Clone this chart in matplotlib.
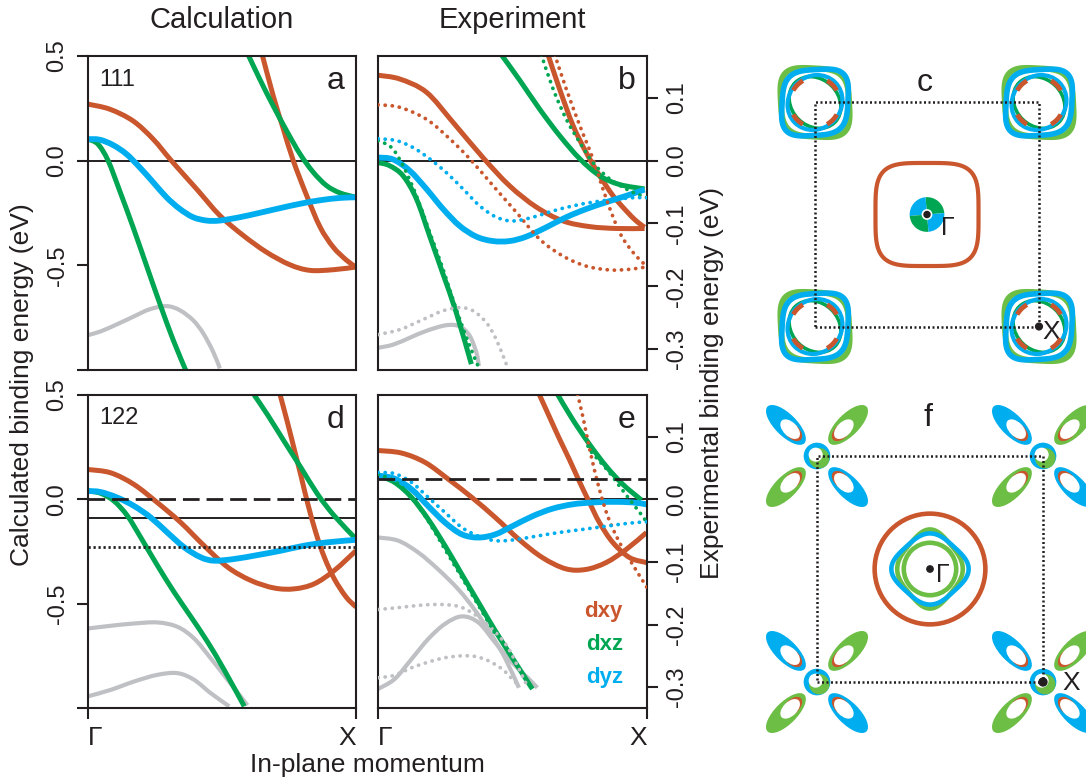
import numpy as np
import matplotlib
matplotlib.use("Agg")
import matplotlib.pyplot as plt
from matplotlib.patches import Ellipse, Circle, Wedge, Polygon, PathPatch, Arc
from matplotlib.path import Path

plt.rcParams['font.family'] = ['Liberation Sans', 'DejaVu Sans']

ORANGE = '#C9562C'
GREEN = '#00A651'
LGREEN = '#6DBE45'
BLUE = '#00AEEF'
GRAY = '#BEC0C4'
INK = '#231F20'

# ---------------- band data: x = momentum (Gamma=0, X=1), y = energy (eV) -------------
# panel a (calculation 111)
a_dxy1_x = [0, .081, .168, .243, .311, .405, .492, .579, .666, .753, .828, .915, 1.0]
a_dxy1_y = [.270, .246, .190, .103, 0, -.135, -.262, -.357, -.437, -.497, -.524, -.521, -.508]
a_dxy2_x = [.648, .691, .729, .766, .816, .866, .915, .965, 1.0]
a_dxy2_y = [.516, .310, .151, 0, -.167, -.317, -.413, -.476, -.508]
a_dxz1_x = [0, .037, .075, .118, .168, .218, .268, .318, .367]
a_dxz1_y = [.103, .079, 0, -.143, -.317, -.5, -.683, -.857, -1.008]
a_dxz2_x = [.594, .641, .691, .741, .791, .841, .890, .940, 1.0]
a_dxz2_y = [.516, .389, .262, .143, .032, -.056, -.119, -.154, -.175]
a_dyz_x = [0, .044, .093, .143, .193, .243, .293, .342, .392, .442, .492, .567, .641, .716, .791, .866, .940, 1.0]
a_dyz_y = [.103, .1, .075, .032, -.032, -.103, -.175, -.230, -.270, -.286, -.286, -.270, -.249, -.227, -.206, -.189, -.178, -.175]
a_gray_x = [0, .044, .106, .168, .230, .293, .342, .392, .430, .467, .492]
a_gray_y = [-.833, -.817, -.783, -.746, -.710, -.695, -.714, -.762, -.825, -.913, -.992]

# panel b (experiment 111, experimental energy scale)
b_dxy1_x = [0, .081, .180, .279, .390, .489, .589, .688, .787, .887, .991]
b_dxy1_y = [.136, .130, .109, .061, .005, -.040, -.074, -.096, -.105, -.108, -.108]
b_dxy2_x = [.632, .675, .725, .774, .824, .874, .923, .960, .991]
b_dxy2_y = [.169, .114, .056, .013, -.024, -.056, -.080, -.096, -.106]
b_dxz1_x = [0, .043, .093, .143, .192, .242, .291, .347]
b_dxz1_y = [-.003, -.008, -.024, -.061, -.120, -.181, -.242, -.324]
b_dxz2_x = [.458, .527, .601, .675, .750, .824, .898, .991]
b_dxz2_y = [.169, .128, .082, .040, .003, -.024, -.038, -.045]
b_dyz_x = [0, .056, .118, .180, .242, .304, .366, .427, .489, .551, .626, .700, .774, .849, .923, .991]
b_dyz_y = [.005, .002, -.016, -.045, -.077, -.104, -.121, -.128, -.128, -.121, -.106, -.090, -.077, -.066, -.056, -.046]
b_gray_x = [0, .056, .118, .180, .254, .304, .341, .366, .375]
b_gray_y = [-.298, -.293, -.282, -.271, -.262, -.264, -.279, -.306, -.327]
# experimental (dotted) bands in b
b_exp_dxy1_x = [0, .081, .180, .266, .341, .428, .514, .601, .688, .775, .861, .935, 1.0]
b_exp_dxy1_y = [.089, .085, .066, .035, .003, -.040, -.082, -.125, -.152, -.168, -.174, -.173, -.169]
b_exp_dxy2_x = [.657, .700, .750, .799, .849, .898, .948, 1.0]
b_exp_dxy2_y = [.169, .114, .056, .003, -.061, -.114, -.146, -.169]
b_exp_dxz1_x = [0, .050, .093, .143, .192, .242, .291, .341, .372]
b_exp_dxz1_y = [.032, .021, -.008, -.056, -.114, -.173, -.237, -.295, -.327]
b_exp_dxz2_x = [.607, .651, .700, .750, .799, .861, .936, 1.0]
b_exp_dxz2_y = [.169, .114, .066, .029, -.003, -.029, -.048, -.059]
b_exp_dyz_x = [0, .068, .130, .192, .254, .316, .378, .440, .502, .576, .651, .725, .799, .874, .948, 1.0]
b_exp_dyz_y = [.035, .032, .021, .003, -.019, -.045, -.072, -.090, -.096, -.090, -.080, -.072, -.066, -.062, -.059, -.059]
b_exp_gray_x = [0, .081, .167, .242, .304, .353, .403, .440, .477]
b_exp_gray_y = [-.277, -.269, -.253, -.239, -.234, -.239, -.258, -.285, -.324]

# panel d (calculation 122)
d_dxy1_x = [0, .085, .172, .259, .346, .433, .521, .608, .695, .770, .844, .919, 1.0]
d_dxy1_y = [.143, .127, .071, -.016, -.111, -.222, -.325, -.389, -.425, -.429, -.405, -.341, -.246]
d_dxy2_x = [.717, .745, .770, .795, .819, .850, .882, .919, .963, 1.0]
d_dxy2_y = [.5, .365, .238, .111, -.016, -.159, -.278, -.381, -.468, -.516]
d_dxz1_x = [0, .047, .097, .147, .197, .259, .321, .384, .446, .508, .583]
d_dxz1_y = [.040, .029, -.008, -.079, -.183, -.317, -.444, -.563, -.683, -.817, -.992]
d_dxz2_x = [.620, .670, .732, .795, .857, .919, 1.0]
d_dxz2_y = [.5, .405, .278, .151, .024, -.079, -.190]
d_dyz_x = [0, .047, .110, .172, .234, .296, .359, .421, .471, .545, .633, .720, .807, .894, 1.0]
d_dyz_y = [.040, .035, .008, -.032, -.087, -.159, -.230, -.278, -.294, -.286, -.267, -.246, -.222, -.206, -.194]
d_gray1_x = [0, .085, .172, .259, .334, .396, .458, .521, .595]
d_gray1_y = [-.619, -.606, -.595, -.590, -.611, -.667, -.762, -.865, -.987]
d_gray2_x = [0, .085, .172, .259, .334, .396, .458, .527]
d_gray2_y = [-.944, -.913, -.873, -.841, -.833, -.865, -.929, -.992]
d_levels = [0.0, -0.09, -0.227]          # dashed, solid, dotted

# panel e (experiment 122, experimental energy scale)
e_dxy1_x = [0, .087, .175, .262, .349, .436, .524, .611, .698, .773, .848, .923, .998]
e_dxy1_y = [.078, .074, .059, .032, .003, -.029, -.064, -.093, -.111, -.112, -.101, -.080, -.053]
e_dxy2_x = [.599, .636, .673, .711, .748, .786, .823, .873, .935, .998]
e_dxy2_y = [.168, .133, .098, .064, .029, -.005, -.037, -.069, -.093, -.101]
e_dxz1_x = [0, .062, .125, .187, .249, .312, .374, .436, .511, .574]
e_dxz1_y = [.038, .027, .003, -.032, -.074, -.120, -.165, -.210, -.261, -.303]
e_dxz2_x = [.667, .723, .786, .848, .910, .979]
e_dxz2_y = [.168, .128, .088, .053, .024, -.001]
e_dyz_x = [0, .062, .125, .187, .249, .312, .374, .436, .499, .574, .648, .723, .798, .873, .948, .998]
e_dyz_y = [.038, .033, .016, -.011, -.037, -.056, -.061, -.056, -.043, -.027, -.015, -.008, -.005, -.004, -.005, -.008]
e_gray1_x = [0, .075, .150, .224, .299, .362, .424, .474, .524]
e_gray1_y = [-.061, -.066, -.085, -.112, -.144, -.178, -.218, -.255, -.301]
e_gray2_x = [0, .062, .125, .187, .249, .312, .374, .436, .499, .561, .592]
e_gray2_y = [-.303, -.287, -.255, -.223, -.199, -.187, -.197, -.229, -.261, -.287, -.301]
e_exp_dxy_x = [.742, .761, .779, .798, .823, .854, .892, .935, 1.0]
e_exp_dxy_y = [.168, .133, .096, .059, .016, -.027, -.064, -.096, -.141]
e_exp_dxz1_x = [0, .062, .125, .187, .249, .312, .374, .436]
e_exp_dxz1_y = [.040, .029, .003, -.035, -.080, -.125, -.170, -.215]
e_exp_dxz2_x = [.773, .786, .823, .860, .898, .935, .973, 1.0]
e_exp_dxz2_y = [.096, .080, .061, .043, .021, 0, -.021, -.037]
e_exp_dyz_x = [0, .062, .125, .187, .249, .312, .374, .436, .499, .586, .673, .761, .848, .935, 1.0]
e_exp_dyz_y = [.043, .041, .027, .003, -.021, -.045, -.059, -.066, -.065, -.059, -.053, -.048, -.043, -.038, -.036]
e_exp_gray1_x = [0, .075, .162, .237, .299, .349, .399, .449, .486, .524, .549]
e_exp_gray1_y = [-.176, -.173, -.169, -.168, -.171, -.181, -.197, -.218, -.239, -.271, -.293]
e_exp_gray2_x = [0, .062, .125, .187, .249, .312, .362, .411, .461, .499, .524]
e_exp_gray2_y = [-.285, -.281, -.269, -.260, -.253, -.250, -.251, -.258, -.271, -.287, -.298]
e_levels = [0.032, 0.0]                 # dashed, solid

calc_ticks = [-1.0, -0.5, 0.0, 0.5]
calc_ticklabels = ['', '-0.5', '0.0', '0.5']
exp_ticks = [-0.3, -0.2, -0.1, 0.0, 0.1]
exp_ticklabels = ['-0.3', '-0.2', '-0.1', '0.0', '0.1']
k_ticks = [0, 1]
k_ticklabels = ['Γ', 'X']
orbital_names = ['dxy', 'dxz', 'dyz']
orbital_colors = [ORANGE, GREEN, BLUE]

# ---------------- Fermi surface parameters (BZ half-width = 1) ----------------
c_gamma_dxy = [0.46, 4.0]                       # half-size, squircle exponent
c_gamma_disc = 0.155
c_corner_outer_g = [0.30, 3.5, 0.97, 1.07]      # half-size, exponent, stretch NE-SW, stretch NW-SE
c_corner_outer_b = [0.29, 3.5, 1.07, 0.96]
c_corner_inner = [0.222, 0.25, 0.21, 0.255, 0.235]  # orange arc radius, green / blue ellipse semi-axes
f_gamma_dxy = 0.49
f_gamma_dxz_circle = 0.232
f_gamma_dyz_diamond = [0.342, 0.315]            # half-width, half-height
f_gamma_dxz_diamond = [0.29, 0.35]
f_corner_ring = [0.118, 0.09, 0.062]
f_lobe = [0.275, 0.23, 0.097, 0.106, 0.062]     # offset, semi-major, semi-minor, hole semi axes
f_lobe_colors = {(-1, 1): BLUE, (1, 1): LGREEN, (-1, -1): LGREEN, (1, -1): BLUE}
corners = [(-1, -1), (1, -1), (1, 1), (-1, 1)]

# ---------------- figure ----------------
W, H = 1086, 781
fig = plt.figure(figsize=(W / 100, H / 100), dpi=100)


def rect(l, t, r, b):
    return [l / W, 1 - b / H, (r - l) / W, (b - t) / H]


ax_a = fig.add_axes(rect(88, 56, 356, 370))
ax_b = fig.add_axes(rect(378, 56, 647, 370))
ax_d = fig.add_axes(rect(88, 395, 356, 708))
ax_e = fig.add_axes(rect(378, 395, 647, 708))

LW = 3.6


def smooth_path(x, y):
    """Cubic Bezier path through the read points (Catmull-Rom tangents)."""
    P = np.column_stack([x, y]).astype(float)
    n = len(P)
    verts = [P[0]]
    codes = [Path.MOVETO]
    for i in range(n - 1):
        p0 = P[i - 1] if i > 0 else P[i]
        p1, p2 = P[i], P[i + 1]
        p3 = P[i + 2] if i + 2 < n else P[i + 1]
        verts += [p1 + (p2 - p0) / 6, p2 - (p3 - p1) / 6, p2]
        codes += [Path.CURVE4] * 3
    return Path(verts, codes)


def solid(ax, x, y, c, lw=LW):
    ax.add_patch(PathPatch(smooth_path(x, y), fill=False, ec=c, lw=lw, joinstyle='round',
                           capstyle='butt', zorder=2))


def dotted(ax, x, y, c):
    ax.add_patch(PathPatch(smooth_path(x, y), fill=False, ec=c, lw=2.7, ls=(0, (0.05, 1.85)),
                           capstyle='round', zorder=3))


for ax in (ax_a, ax_b, ax_d, ax_e):
    ax.set_xlim(0, 1)
    for s in ax.spines.values():
        s.set_linewidth(1.5)
        s.set_color(INK)
    ax.tick_params(direction='out', length=8, width=1.5, labelsize=17, color=INK, labelcolor=INK)

for ax in (ax_a, ax_d):
    ax.set_ylim(-1.0, 0.5)
    ax.set_yticks(calc_ticks)
    ax.set_yticklabels(calc_ticklabels, rotation=90, va='center')
    ax.tick_params(axis='y', pad=6)
for ax in (ax_b, ax_e):
    ax.set_ylim(-1.0 / 3, 0.5 / 3)
    ax.yaxis.tick_right()
    ax.set_yticks(exp_ticks)
    ax.set_yticklabels(exp_ticklabels, rotation=90, va='center')
    ax.tick_params(axis='y', pad=6)
for ax in (ax_a, ax_b):
    ax.set_xticks([])
for ax in (ax_d, ax_e):
    ax.set_xticks(k_ticks)
    lbls = ax.set_xticklabels(k_ticklabels, fontsize=19)
    lbls[0].set_ha('left')
    lbls[1].set_ha('right')
    ax.tick_params(axis='x', pad=5)

# panel a
ax_a.axhline(0, color=INK, lw=1.4, zorder=1)
solid(ax_a, a_gray_x, a_gray_y, GRAY, 3.0)
solid(ax_a, a_dxy1_x, a_dxy1_y, ORANGE)
solid(ax_a, a_dxy2_x, a_dxy2_y, ORANGE)
solid(ax_a, a_dxz1_x, a_dxz1_y, GREEN)
solid(ax_a, a_dxz2_x, a_dxz2_y, GREEN)
solid(ax_a, a_dyz_x, a_dyz_y, BLUE, 4.2)

# panel b
ax_b.axhline(0, color=INK, lw=1.4, zorder=1)
solid(ax_b, b_gray_x, b_gray_y, GRAY, 3.0)
solid(ax_b, b_dxy1_x, b_dxy1_y, ORANGE)
solid(ax_b, b_dxy2_x, b_dxy2_y, ORANGE)
solid(ax_b, b_dxz1_x, b_dxz1_y, GREEN)
solid(ax_b, b_dxz2_x, b_dxz2_y, GREEN)
solid(ax_b, b_dyz_x, b_dyz_y, BLUE, 4.2)
dotted(ax_b, b_exp_gray_x, b_exp_gray_y, GRAY)
dotted(ax_b, b_exp_dxy1_x, b_exp_dxy1_y, ORANGE)
dotted(ax_b, b_exp_dxy2_x, b_exp_dxy2_y, ORANGE)
dotted(ax_b, b_exp_dxz1_x, b_exp_dxz1_y, GREEN)
dotted(ax_b, b_exp_dxz2_x, b_exp_dxz2_y, GREEN)
dotted(ax_b, b_exp_dyz_x, b_exp_dyz_y, BLUE)

# panel d
solid(ax_d, d_gray1_x, d_gray1_y, GRAY, 3.0)
solid(ax_d, d_gray2_x, d_gray2_y, GRAY, 3.0)
solid(ax_d, d_dxy1_x, d_dxy1_y, ORANGE)
solid(ax_d, d_dxy2_x, d_dxy2_y, ORANGE)
solid(ax_d, d_dxz1_x, d_dxz1_y, GREEN)
solid(ax_d, d_dxz2_x, d_dxz2_y, GREEN)
solid(ax_d, d_dyz_x, d_dyz_y, BLUE, 4.2)
ax_d.axhline(d_levels[0], color=INK, lw=2.0, ls=(0, (6, 2.5)), zorder=4)
ax_d.axhline(d_levels[1], color=INK, lw=1.4, zorder=1)
ax_d.axhline(d_levels[2], color=INK, lw=2.0, ls=(0, (0.8, 1.0)), zorder=4)

# panel e
solid(ax_e, e_gray1_x, e_gray1_y, GRAY, 3.0)
solid(ax_e, e_gray2_x, e_gray2_y, GRAY, 3.0)
solid(ax_e, e_dxy1_x, e_dxy1_y, ORANGE)
solid(ax_e, e_dxy2_x, e_dxy2_y, ORANGE)
solid(ax_e, e_dxz1_x, e_dxz1_y, GREEN)
solid(ax_e, e_dxz2_x, e_dxz2_y, GREEN)
solid(ax_e, e_dyz_x, e_dyz_y, BLUE, 4.2)
dotted(ax_e, e_exp_gray1_x, e_exp_gray1_y, GRAY)
dotted(ax_e, e_exp_gray2_x, e_exp_gray2_y, GRAY)
dotted(ax_e, e_exp_dxy_x, e_exp_dxy_y, ORANGE)
dotted(ax_e, e_exp_dxz1_x, e_exp_dxz1_y, GREEN)
dotted(ax_e, e_exp_dxz2_x, e_exp_dxz2_y, GREEN)
dotted(ax_e, e_exp_dyz_x, e_exp_dyz_y, BLUE)
ax_e.axhline(e_levels[0], color=INK, lw=2.0, ls=(0, (6, 2.5)), zorder=4)
ax_e.axhline(e_levels[1], color=INK, lw=1.4, zorder=1)

# panel labels
for ax, lab, num in ((ax_a, 'a', '111'), (ax_b, 'b', None), (ax_d, 'd', '122'), (ax_e, 'e', None)):
    ax.text(0.925, 0.92, lab, transform=ax.transAxes, fontsize=23, ha='center', va='center', color=INK)
    if num:
        ax.text(0.042, 0.925, num, transform=ax.transAxes, fontsize=17, ha='left', va='center', color=INK)

for i, (nm, col) in enumerate(zip(orbital_names, orbital_colors)):
    ax_e.text(0.91, 0.291 - 0.105 * i, nm, color=col, transform=ax_e.transAxes,
              fontsize=16, fontweight='bold', ha='right', va='baseline')

fig.text(222 / W, 1 - 20 / H, 'Calculation', fontsize=21, ha='center', va='center', color=INK)
fig.text(512 / W, 1 - 20 / H, 'Experiment', fontsize=21, ha='center', va='center', color=INK)
fig.text(22 / W, 1 - 385 / H, 'Calculated binding energy (eV)', fontsize=19, rotation=90,
         ha='center', va='center', color=INK)
fig.text(712 / W, 1 - 383 / H, 'Experimental binding energy (eV)', fontsize=19, rotation=90,
         ha='center', va='center', color=INK)
fig.text(367 / W, 1 - 765 / H, 'In-plane momentum', fontsize=19, ha='center', va='center', color=INK)


# ---------------- Fermi surfaces ----------------
def shape(n, rot_deg, hx, hy, s_diag=1.0, s_anti=1.0, npts=240):
    t = np.linspace(0, 2 * np.pi, npts)
    c, s = np.cos(t), np.sin(t)
    x = np.sign(c) * np.abs(c) ** (2 / n)
    y = np.sign(s) * np.abs(s) ** (2 / n)
    r = np.deg2rad(rot_deg)
    x, y = x * np.cos(r) - y * np.sin(r), x * np.sin(r) + y * np.cos(r)
    x = x / np.abs(x).max() * hx
    y = y / np.abs(y).max() * hy
    u, v = (x + y) / np.sqrt(2) * s_diag, (x - y) / np.sqrt(2) * s_anti
    return np.column_stack([(u + v) / np.sqrt(2), (u - v) / np.sqrt(2)])


def outline(ax, pts, center, color, lw, z=2):
    ax.add_patch(Polygon(pts + np.array(center), closed=True, fill=False, ec=color, lw=lw,
                         joinstyle='round', zorder=z))


def zone(ax):
    ax.plot([-1, 1, 1, -1, -1], [-1, -1, 1, 1, -1], color=INK, lw=1.8,
            ls=(0, (0.8, 1.0)), zorder=6)


# panel c
ax_c = fig.add_axes(rect(745, 40, 1086, 385))
ax_c.set_xlim((745 - 927) / 112, (1086 - 927) / 112)
ax_c.set_ylim((214.5 - 385) / 112, (214.5 - 40) / 112)
ax_c.axis('off')
outline(ax_c, shape(c_gamma_dxy[1], 0, c_gamma_dxy[0], c_gamma_dxy[0]), (0, 0), ORANGE, 3.0)
for th1, th2, col in ((5, 95, GREEN), (95, 185, BLUE), (185, 275, GREEN), (275, 365, BLUE)):
    ax_c.add_patch(Wedge((0, 0), c_gamma_disc, th1, th2, color=col, lw=0, zorder=3))
ax_c.add_patch(Circle((0, 0), 0.042, color='white', zorder=4))
ax_c.add_patch(Circle((0, 0), 0.027, color=INK, zorder=5))
ci = c_corner_inner
for cx, cy in corners:
    g = c_corner_outer_g
    b = c_corner_outer_b
    outline(ax_c, shape(g[1], 0, g[0], g[0], g[2], g[3]), (cx, cy), LGREEN, 4.2, 2)
    outline(ax_c, shape(b[1], 0, b[0], b[0], b[2], b[3]), (cx, cy), BLUE, 4.0, 3)
    ax_c.add_patch(Ellipse((cx, cy), 2 * ci[1], 2 * ci[2], angle=-45,
                           fill=False, ec=GREEN, lw=2.6, zorder=3))
    ax_c.add_patch(Ellipse((cx, cy), 2 * ci[3], 2 * ci[4], angle=45,
                           fill=False, ec=BLUE, lw=3.0, zorder=4))
    for th in (45, 135, 225, 315):
        ax_c.add_patch(Arc((cx, cy), 2 * ci[0], 2 * ci[0], theta1=th - 16,
                           theta2=th + 16, ec=ORANGE, lw=3.4, zorder=5))
zone(ax_c)
ax_c.add_patch(Circle((1, -1), 0.03, color=INK, zorder=7))
ax_c.text(-0.02, 1.17, 'c', fontsize=23, ha='center', va='center', color=INK)
ax_c.text(0.19, -0.12, 'Γ', fontsize=18, ha='center', va='center', color=INK)
ax_c.text(1.11, -1.05, 'X', fontsize=19, ha='center', va='center', color=INK)

# panel f
ax_f = fig.add_axes(rect(745, 390, 1086, 781))
ax_f.set_xlim((745 - 930) / 113, (1086 - 930) / 113)
ax_f.set_ylim((569 - 781) / 113, (569 - 390) / 113)
ax_f.axis('off')
ax_f.add_patch(Circle((0, 0), f_gamma_dxy, fill=False, ec=ORANGE, lw=3.3, zorder=2))
outline(ax_f, shape(3.2, 45, *f_gamma_dxz_diamond), (0, 0), LGREEN, 3.3, 2)
outline(ax_f, shape(3.2, 45, *f_gamma_dyz_diamond), (0, 0), BLUE, 3.3, 3)
ax_f.add_patch(Circle((0, 0), f_gamma_dxz_circle, fill=False, ec=LGREEN, lw=3.3, zorder=4))
ax_f.add_patch(Circle((0, 0), 0.028, color=INK, zorder=7))
off, a1, b1, ha1, hb1 = f_lobe
for cx, cy in corners:
    ax_f.add_patch(Circle((cx, cy), f_corner_ring[0], color=BLUE, lw=0, zorder=2))
    ax_f.add_patch(Circle((cx + 0.02, cy - 0.02), f_corner_ring[1], color=LGREEN, lw=0, zorder=3))
    ax_f.add_patch(Circle((cx - 0.012, cy + 0.012), f_corner_ring[2], color='white', lw=0, zorder=4))
    for (dx, dy), col in f_lobe_colors.items():
        ang = np.degrees(np.arctan2(dy, dx))
        ux, uy = dx / np.sqrt(2), dy / np.sqrt(2)
        lx, ly = cx + off * dx, cy + off * dy
        ax_f.add_patch(Ellipse((lx, ly), 2 * a1, 2 * b1, angle=ang, color=col, lw=0, zorder=2))
        ax_f.add_patch(Ellipse((lx - 0.08 * ux, ly - 0.08 * uy), 2 * ha1, 2 * hb1, angle=ang,
                               color=ORANGE, lw=0, zorder=3))
        ax_f.add_patch(Ellipse((lx - 0.053 * ux, ly - 0.053 * uy), 2 * ha1, 2 * hb1, angle=ang,
                               color='white', lw=0, zorder=4))
zone(ax_f)
ax_f.add_patch(Circle((1, -1), 0.035, color=INK, zorder=7))
ax_f.text(-0.015, 1.333, 'f', fontsize=23, ha='center', va='center', color=INK)
ax_f.text(0.11, -0.05, 'Γ', fontsize=18, ha='center', va='center', color=INK)
ax_f.text(1.25, -1.01, 'X', fontsize=19, ha='center', va='center', color=INK)

fig.savefig('out.png', dpi=100)
